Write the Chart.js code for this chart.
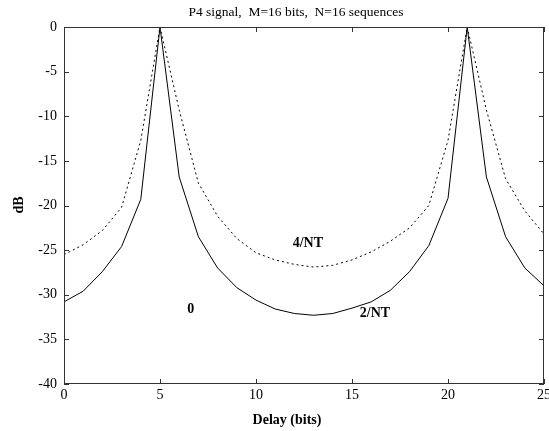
<!DOCTYPE html>
<html>
<head>
<meta charset="utf-8">
<script src="https://cdn.jsdelivr.net/npm/chart.js@4"></script>
<style>
  html, body { margin: 0; padding: 0; background: #fff; }
  #wrap { width: 549px; height: 431px; }
</style>
</head>
<body>
<div id="wrap"><canvas id="ambCanvas" width="549" height="431"></canvas></div>
<script>
// delay axis (bits)
var delay = [0,1,2,3,4,5,6,7,8,9,10,11,12,13,14,15,16,17,18,19,20,21,22,23,24,25];
// doppler 2/NT (solid)
var dop2 = [-30.8,-29.6,-27.4,-24.6,-19.3,0,-16.8,-23.5,-27.0,-29.2,-30.6,-31.6,-32.1,-32.3,-32.1,-31.5,-30.8,-29.5,-27.4,-24.5,-19.2,0,-16.8,-23.5,-27.0,-29.0];
// doppler 4/NT (dotted)
var dop4 = [-25.5,-24.4,-22.8,-20.2,-12.7,0,-9.3,-17.5,-21.2,-23.7,-25.3,-26.1,-26.6,-26.9,-26.7,-26.1,-25.2,-24.0,-22.5,-20.0,-12.7,0,-9.3,-17.0,-20.6,-23.2];

var xTicks = [0,5,10,15,20,25];
var yTicks = [0,-5,-10,-15,-20,-25,-30,-35,-40];

// curve labels: text, delay, dB
var curveLabels = [
  ['4/NT', 12.7, -24.2],
  ['2/NT', 16.2, -32.1],
  ['0', 6.6, -31.6]
];

var serif = '"Liberation Serif", "DejaVu Serif", serif';

// inward tick marks on all four sides, plus texts
var boxPlugin = {
  id: 'boxPlugin',
  afterDraw: function(chart) {
    var ctx = chart.ctx;
    var a = chart.chartArea;
    var xs = chart.scales.x, ys = chart.scales.y;
    ctx.save();
    ctx.strokeStyle = '#333';
    ctx.lineWidth = 1;
    ctx.strokeRect(a.left + 0.5, a.top + 0.5, a.right - a.left - 1, a.bottom - a.top - 1);
    ctx.beginPath();
    xTicks.forEach(function(v) {
      var px = Math.round(xs.getPixelForValue(v)) + 0.5;
      ctx.moveTo(px, a.bottom); ctx.lineTo(px, a.bottom - 5);
      ctx.moveTo(px, a.top); ctx.lineTo(px, a.top + 5);
    });
    yTicks.forEach(function(v) {
      var py = Math.round(ys.getPixelForValue(v)) + 0.5;
      ctx.moveTo(a.left, py); ctx.lineTo(a.left + 5, py);
      ctx.moveTo(a.right, py); ctx.lineTo(a.right - 5, py);
    });
    ctx.stroke();

    ctx.fillStyle = '#000';
    ctx.textAlign = 'center';
    ctx.textBaseline = 'middle';
    ctx.font = '13.5px ' + serif;
    ctx.fillText('P4 signal,  M=16 bits,  N=16 sequences', 296, 12);
    ctx.font = 'bold 14px ' + serif;
    ctx.fillText('Delay (bits)', 287, 420);
    ctx.save();
    ctx.translate(19, 205);
    ctx.rotate(-Math.PI / 2);
    ctx.fillText('dB', 0, 0);
    ctx.restore();
    ctx.font = 'bold 14px ' + serif;
    curveLabels.forEach(function(l) {
      ctx.fillText(l[0], xs.getPixelForValue(l[1]), ys.getPixelForValue(l[2]));
    });
    ctx.restore();
  }
};

new Chart(
  document.getElementById('ambCanvas'),
  {
    type: 'line',
    plugins: [boxPlugin],
    data: {
      labels: delay,
      datasets: [
        {
          label: '2/NT',
          data: delay.map((d, i) => ({x: d, y: dop2[i]})),
          borderColor: '#000',
          borderWidth: 1,
          pointRadius: 0,
          tension: 0
        },
        {
          label: '4/NT',
          data: delay.map((d, i) => ({x: d, y: dop4[i]})),
          borderColor: '#000',
          borderWidth: 1,
          borderDash: [2, 3],
          pointRadius: 0,
          tension: 0
        }
      ]
    },
    options: {
      responsive: false,
      animation: false,
      devicePixelRatio: 1,
      layout: { padding: { top: 27, right: 5, left: 0, bottom: 0 } },
      plugins: {
        legend: { display: false },
        tooltip: { enabled: false },
        title: { display: false }
      },
      scales: {
        x: {
          type: 'linear',
          min: 0,
          max: 25,
          grid: { display: false, drawTicks: false },
          border: { display: false },
          afterFit: function(s) { s.height = 47; s.paddingRight = 0; s.paddingLeft = 0; },
          ticks: {
            stepSize: 5,
            padding: 3,
            color: '#000',
            maxRotation: 0,
            font: { family: serif, size: 14 }
          }
        },
        y: {
          min: -40,
          max: 0,
          grid: { display: false, drawTicks: false },
          border: { display: false },
          afterFit: function(s) { s.width = 64; s.paddingTop = 0; s.paddingBottom = 0; },
          ticks: {
            stepSize: 5,
            padding: 7,
            color: '#000',
            font: { family: serif, size: 14 }
          }
        }
      }
    }
  }
);
</script>
</body>
</html>
